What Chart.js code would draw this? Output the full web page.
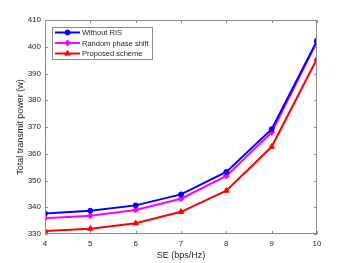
<!DOCTYPE html>
<html><head><meta charset="utf-8">
<script src="https://cdn.jsdelivr.net/npm/chart.js@4/dist/chart.umd.min.js"></script>
<style>html,body{margin:0;padding:0;background:#fff;}#wrap{width:350px;height:263px;}</style>
</head><body><div id="wrap"><canvas id="c" width="350" height="263"></canvas></div>
<script>
const categories = [4, 5, 6, 7, 8, 9, 10];
const withoutRIS = [337.7, 338.7, 340.7, 344.8, 353.2, 369.2, 402.3];
const randomPhase = [335.9, 336.8, 339.0, 343.2, 351.7, 368.0, 401.9];
const proposed = [331.1, 332.0, 334.0, 338.3, 346.2, 362.6, 395.5];
const yTicks = [330, 340, 350, 360, 370, 380, 390, 400, 410];
const seriesNames = ['Without RIS', 'Random phase shift', 'Proposed scheme'];

const FONT = 'Liberation Sans, Arial, sans-serif';
const TXT = '#262626';
const AX = '#8c8c8c';

const frame = {
  id: 'frame',
  afterDraw(chart) {
    const ctx = chart.ctx, a = chart.chartArea;
    const xs = chart.scales.x, ys = chart.scales.y;
    ctx.save();
    ctx.strokeStyle = AX; ctx.lineWidth = 1;
    ctx.strokeRect(a.left + 0.5, a.top + 0.5, a.right - a.left - 1, a.bottom - a.top - 1);
    ctx.beginPath();
    categories.forEach(v => {
      const px = Math.round(xs.getPixelForValue(v)) + 0.5;
      ctx.moveTo(px, a.bottom); ctx.lineTo(px, a.bottom - 3);
      ctx.moveTo(px, a.top); ctx.lineTo(px, a.top + 3);
    });
    yTicks.forEach(v => {
      const py = Math.round(ys.getPixelForValue(v)) + 0.5;
      ctx.moveTo(a.left, py); ctx.lineTo(a.left + 3, py);
      ctx.moveTo(a.right, py); ctx.lineTo(a.right - 3, py);
    });
    ctx.stroke();
    // legend
    const lx = a.left + 7, ly = a.top + 7, lw = 100, lh = 32;
    ctx.fillStyle = '#fff';
    ctx.fillRect(lx, ly, lw, lh);
    ctx.strokeStyle = AX;
    ctx.strokeRect(lx + 0.5, ly + 0.5, lw, lh);
    ctx.font = '7.5px ' + FONT;
    ctx.textBaseline = 'middle';
    chart.data.datasets.forEach((ds, i) => {
      const y = ly + 5.5 + i * 10.5;
      ctx.strokeStyle = ds.borderColor; ctx.lineWidth = 2;
      ctx.beginPath(); ctx.moveTo(lx + 3, y); ctx.lineTo(lx + 28, y); ctx.stroke();
      ctx.fillStyle = ds.borderColor; ctx.lineWidth = 1;
      Chart.helpers.drawPoint(ctx, {pointStyle: ds.pointStyle, radius: ds.pointRadius, borderWidth: 1}, lx + 15.5, y);
      ctx.fillStyle = TXT;
      ctx.fillText(ds.label, lx + 30, y + 0.5);
    });
    ctx.restore();
  }
};

new Chart(document.getElementById('c'), {
  type: 'line',
  data: {
    labels: categories,
    datasets: [
      {label: seriesNames[0], data: withoutRIS, borderColor: '#0000ff', backgroundColor: '#0000ff', pointStyle: 'circle', pointRadius: 2.5},
      {label: seriesNames[1], data: randomPhase, borderColor: '#ff00ff', backgroundColor: '#ff00ff', pointStyle: 'rectRot', pointRadius: 3},
      {label: seriesNames[2], data: proposed, borderColor: '#ff0000', backgroundColor: '#ff0000', pointStyle: 'triangle', pointRadius: 3.2}
    ].map(d => Object.assign(d, {borderWidth: 2, pointBorderWidth: 1, tension: 0, fill: false}))
  },
  options: {
    responsive: false, animation: false, devicePixelRatio: 1,
    layout: {padding: {top: 20, right: 33, left: 0, bottom: 0}},
    plugins: {legend: {display: false}, tooltip: {enabled: false}},
    scales: {
      x: {
        type: 'linear', min: 4, max: 10,
        afterFit(s) { s.height = 29; },
        afterBuildTicks(s) { s.ticks = categories.map(v => ({value: v})); },
        grid: {display: false, drawTicks: false}, border: {display: false},
        ticks: {color: TXT, font: {family: FONT, size: 8}, padding: 5},
        title: {display: true, text: 'SE (bps/Hz)', color: TXT, font: {family: FONT, size: 9}, padding: {top: 0, bottom: 2}}
      },
      y: {
        min: 330, max: 410,
        afterFit(s) { s.width = 45; },
        afterBuildTicks(s) { s.ticks = yTicks.map(v => ({value: v})); },
        grid: {display: false, drawTicks: false}, border: {display: false},
        ticks: {color: TXT, font: {family: FONT, size: 8}, padding: 4},
        title: {display: true, text: 'Total transmit power (w)', color: TXT, font: {family: FONT, size: 9}, padding: {top: 15, bottom: 0}}
      }
    }
  },
  plugins: [frame]
});
</script></body></html>
